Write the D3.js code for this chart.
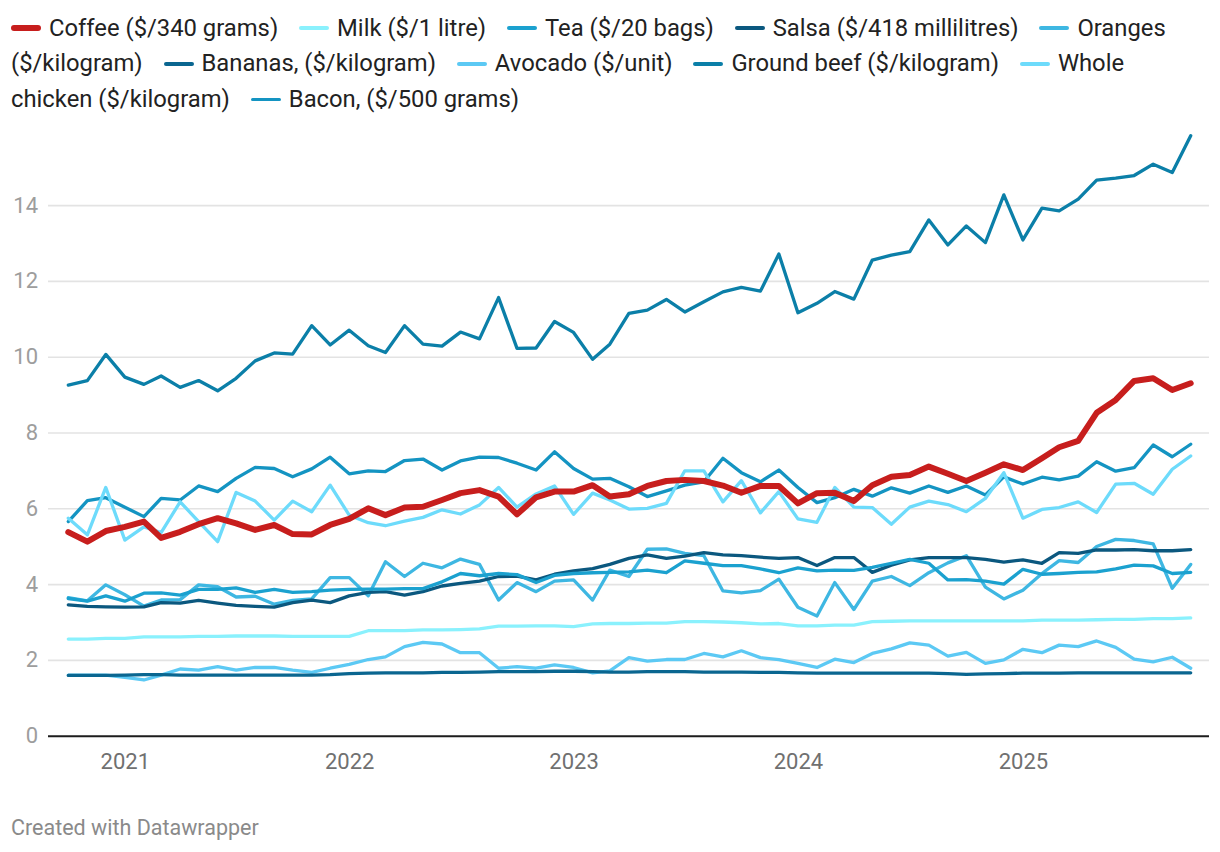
<!DOCTYPE html>
<html>
<head>
<meta charset="utf-8">
<script src="https://cdn.jsdelivr.net/npm/d3@7"></script>
<style>
  body { margin: 0; background: #fff; font-family: Roboto, sans-serif; }
  #chart { position: relative; width: 1220px; height: 852px; }
  #legend {
    position: absolute; left: 11px; top: 10.5px; width: 1198px;
    font-size: 23.8px; line-height: 35.7px; color: #222;
  }
  #legend .item { margin-right: 15px; }
  #legend .head { white-space: nowrap; }
  #legend .swatch {
    display: inline-block; width: 30px; border-radius: 3px;
    vertical-align: middle; margin-right: 8px; position: relative; top: -1px;
  }
  svg { position: absolute; left: 0; top: 0; }
</style>
</head>
<body>
<div id="chart"></div>
<script>
// monthly, Oct 2020 .. Oct 2025
const months = d3.timeMonth.range(new Date(2020, 9, 1), new Date(2025, 10, 1));
const yearTicks = ["2021", "2022", "2023", "2024", "2025"];
const yTicks = [0, 2, 4, 6, 8, 10, 12, 14];

const coffee = [5.37, 5.12, 5.40, 5.51, 5.65, 5.22, 5.38, 5.58, 5.74, 5.60,
  5.43, 5.56, 5.32, 5.31, 5.56, 5.72, 6.00, 5.82, 6.02, 6.04,
  6.22, 6.40, 6.48, 6.31, 5.84, 6.29, 6.44, 6.44, 6.61, 6.31,
  6.37, 6.59, 6.72, 6.75, 6.72, 6.60, 6.41, 6.59, 6.59, 6.13,
  6.40, 6.41, 6.19, 6.61, 6.83, 6.88, 7.10, 6.91, 6.72, 6.94,
  7.16, 7.01, 7.32, 7.61, 7.78, 8.52, 8.86, 9.36, 9.43, 9.12, 9.30];
const milk = [2.55, 2.55, 2.57, 2.57, 2.61, 2.61, 2.61, 2.62, 2.62, 2.63,
  2.63, 2.63, 2.62, 2.62, 2.62, 2.62, 2.77, 2.77, 2.77, 2.79,
  2.79, 2.80, 2.82, 2.89, 2.89, 2.90, 2.90, 2.88, 2.95, 2.96,
  2.96, 2.97, 2.97, 3.01, 3.01, 3.00, 2.98, 2.95, 2.96, 2.90,
  2.90, 2.92, 2.92, 3.01, 3.02, 3.03, 3.03, 3.03, 3.03, 3.03,
  3.03, 3.03, 3.05, 3.05, 3.05, 3.06, 3.07, 3.07, 3.09, 3.09, 3.11];
const tea = [3.62, 3.55, 3.69, 3.55, 3.76, 3.77, 3.71, 3.86, 3.86, 3.90,
  3.78, 3.86, 3.78, 3.80, 3.84, 3.86, 3.87, 3.87, 3.88, 3.88,
  4.06, 4.28, 4.22, 4.28, 4.25, 4.04, 4.23, 4.28, 4.30, 4.31,
  4.32, 4.37, 4.30, 4.61, 4.55, 4.49, 4.49, 4.40, 4.30, 4.43,
  4.35, 4.37, 4.36, 4.44, 4.55, 4.65, 4.55, 4.11, 4.12, 4.08,
  4.00, 4.39, 4.26, 4.28, 4.31, 4.32, 4.40, 4.50, 4.48, 4.28, 4.31];
const salsa = [3.45, 3.41, 3.40, 3.39, 3.40, 3.51, 3.50, 3.57, 3.50, 3.44,
  3.41, 3.39, 3.51, 3.58, 3.51, 3.69, 3.78, 3.80, 3.71, 3.80,
  3.95, 4.02, 4.08, 4.20, 4.21, 4.11, 4.26, 4.35, 4.41, 4.52,
  4.68, 4.77, 4.68, 4.74, 4.83, 4.77, 4.75, 4.71, 4.68, 4.70,
  4.49, 4.70, 4.70, 4.31, 4.50, 4.64, 4.70, 4.70, 4.70, 4.65,
  4.58, 4.64, 4.55, 4.83, 4.81, 4.90, 4.90, 4.91, 4.88, 4.88, 4.91];
const oranges = [3.64, 3.56, 3.98, 3.72, 3.42, 3.58, 3.59, 3.98, 3.93, 3.66,
  3.68, 3.47, 3.57, 3.61, 4.17, 4.17, 3.69, 4.59, 4.20, 4.55,
  4.43, 4.66, 4.52, 3.58, 4.04, 3.80, 4.08, 4.11, 3.58, 4.37,
  4.20, 4.92, 4.93, 4.81, 4.75, 3.82, 3.77, 3.83, 4.13, 3.39,
  3.16, 4.04, 3.33, 4.08, 4.20, 3.96, 4.30, 4.56, 4.75, 3.92,
  3.61, 3.84, 4.28, 4.62, 4.57, 4.99, 5.18, 5.15, 5.06, 3.89, 4.52];
const bananas = [1.59, 1.59, 1.59, 1.60, 1.61, 1.61, 1.60, 1.60, 1.60, 1.60,
  1.60, 1.60, 1.60, 1.60, 1.61, 1.64, 1.65, 1.66, 1.66, 1.66,
  1.67, 1.67, 1.68, 1.69, 1.69, 1.69, 1.70, 1.70, 1.69, 1.68,
  1.68, 1.69, 1.69, 1.69, 1.68, 1.68, 1.68, 1.67, 1.67, 1.66,
  1.65, 1.65, 1.65, 1.65, 1.65, 1.65, 1.65, 1.64, 1.62, 1.63,
  1.64, 1.65, 1.65, 1.65, 1.66, 1.66, 1.66, 1.66, 1.66, 1.66, 1.66];
const avocado = [1.60, 1.60, 1.60, 1.54, 1.47, 1.60, 1.76, 1.73, 1.82, 1.73,
  1.80, 1.80, 1.73, 1.67, 1.78, 1.88, 2.01, 2.08, 2.35, 2.46,
  2.42, 2.19, 2.19, 1.78, 1.82, 1.78, 1.87, 1.80, 1.66, 1.71,
  2.06, 1.97, 2.01, 2.01, 2.17, 2.08, 2.24, 2.06, 2.01, 1.91,
  1.80, 2.02, 1.93, 2.17, 2.29, 2.45, 2.39, 2.10, 2.20, 1.91,
  2.00, 2.28, 2.19, 2.39, 2.35, 2.50, 2.33, 2.02, 1.95, 2.07, 1.78];
const groundBeef = [9.25, 9.37, 10.06, 9.46, 9.27, 9.49, 9.19, 9.37, 9.10, 9.43,
  9.89, 10.10, 10.07, 10.82, 10.31, 10.70, 10.29, 10.11, 10.82, 10.33,
  10.28, 10.65, 10.47, 11.56, 10.22, 10.23, 10.93, 10.64, 9.93, 10.33,
  11.14, 11.23, 11.51, 11.18, 11.45, 11.71, 11.83, 11.73, 12.71, 11.16,
  11.41, 11.72, 11.52, 12.55, 12.68, 12.77, 13.61, 12.95, 13.45, 13.01,
  14.27, 13.08, 13.92, 13.85, 14.16, 14.66, 14.71, 14.78, 15.08, 14.86, 15.83];
const wholeChicken = [5.74, 5.30, 6.55, 5.16, 5.51, 5.36, 6.17, 5.65, 5.12, 6.42,
  6.19, 5.69, 6.19, 5.91, 6.61, 5.82, 5.62, 5.54, 5.66, 5.76,
  5.96, 5.85, 6.09, 6.55, 6.03, 6.38, 6.59, 5.84, 6.40, 6.22,
  5.98, 6.00, 6.13, 6.99, 6.99, 6.17, 6.73, 5.88, 6.44, 5.72,
  5.63, 6.55, 6.03, 6.02, 5.58, 6.03, 6.19, 6.10, 5.91, 6.26,
  6.94, 5.74, 5.97, 6.02, 6.17, 5.89, 6.64, 6.66, 6.37, 7.03, 7.38];
const bacon = [5.65, 6.20, 6.28, 6.03, 5.78, 6.26, 6.22, 6.59, 6.44, 6.79,
  7.08, 7.05, 6.83, 7.04, 7.35, 6.91, 6.99, 6.97, 7.26, 7.30,
  7.01, 7.25, 7.35, 7.34, 7.19, 7.01, 7.49, 7.05, 6.77, 6.79,
  6.57, 6.31, 6.46, 6.61, 6.70, 7.32, 6.94, 6.70, 7.01, 6.55,
  6.15, 6.28, 6.50, 6.32, 6.54, 6.40, 6.59, 6.42, 6.59, 6.35,
  6.83, 6.64, 6.82, 6.75, 6.85, 7.23, 6.98, 7.07, 7.67, 7.36, 7.69];

const names = ["Coffee ($/340 grams)", "Milk ($/1 litre)", "Tea ($/20 bags)",
  "Salsa ($/418 millilitres)", "Oranges ($/kilogram)", "Bananas, ($/kilogram)",
  "Avocado ($/unit)", "Ground beef ($/kilogram)", "Whole chicken ($/kilogram)",
  "Bacon, ($/500 grams)"];
const colors = ["#c71e1d", "#8af1fd", "#1ba1cf", "#0b587f", "#3eb7e2",
  "#0a6690", "#5cc9f4", "#0b7fa8", "#6ddbfb", "#1494c2"];
const values = [coffee, milk, tea, salsa, oranges, bananas, avocado,
  groundBeef, wholeChicken, bacon];

const series = names.map((name, i) => ({
  name: name, color: colors[i], width: i === 0 ? 6 : 3.3,
  values: values[i].map((v, j) => ({ date: months[j], value: v }))
}));

const W = 1220, H = 852;
const plotLeft = 48, plotRight = 1209, xStart = 68.3, xEnd = 1190.7;

let x = d3.scaleTime()
  .domain([months[0], months[months.length - 1]])
  .range([xStart, xEnd]);
let y = d3.scaleLinear().domain([0, 14]).range([735.7, 205.1]);

// legend (html so the words wrap like the original)
let legend = d3.select("#chart").append("div").attr("id", "legend");
let items = legend.selectAll("span.item").data(series).enter()
  .append("span").attr("class", "item");
items.each(function (d) {
  let words = d.name.split(" ");
  let head = d3.select(this).append("span").attr("class", "head");
  head.append("span").attr("class", "swatch")
    .style("height", d.width === 6 ? "6px" : "3.5px")
    .style("background", d.color);
  head.append("span").text(words[0]);
  d3.select(this).append("span").text(" " + words.slice(1).join(" "));
});
items.filter((d, i) => i < series.length - 1).each(function () {
  this.insertAdjacentText("afterend", " ");
});

let svg = d3.select("#chart").append("svg")
  .attr("width", W)
  .attr("height", H);

// grid + y labels
let yAxis = svg.append("g")
  .attr("transform", "translate(" + plotLeft + ",0)")
  .call(d3.axisLeft(y).tickValues(yTicks).tickSize(-(plotRight - plotLeft)).tickPadding(10));
yAxis.select(".domain").remove();
yAxis.selectAll(".tick line")
  .attr("stroke", d => d === 0 ? "#1d1d1d" : "#e3e3e3")
  .attr("stroke-width", d => d === 0 ? 2 : 1.6);
yAxis.selectAll(".tick text")
  .attr("fill", "#9d9d9d")
  .style("font-family", "Roboto, sans-serif")
  .style("font-size", "22px");

// x labels
let xAxis = svg.append("g")
  .attr("transform", "translate(0,735.7)")
  .call(d3.axisBottom(x)
    .tickValues(yearTicks.map(t => d3.timeParse("%Y")(t)))
    .tickFormat(d3.timeFormat("%Y"))
    .tickSize(0).tickPadding(18));
xAxis.select(".domain").remove();
xAxis.selectAll(".tick text")
  .attr("fill", "#707070")
  .style("font-family", "Roboto, sans-serif")
  .style("font-size", "22px");

let line = d3.line()
  .x(d => x(d.date))
  .y(d => y(d.value));

// coffee last, on top
let order = series.slice(1).reverse().concat([series[0]]);
svg.append("g").selectAll("path")
  .data(order).enter()
  .append("path")
  .attr("d", d => line(d.values))
  .attr("fill", "none")
  .attr("stroke", d => d.color)
  .attr("stroke-width", d => d.width)
  .attr("stroke-linejoin", "round")
  .attr("stroke-linecap", "round");

svg.append("text")
  .attr("x", 11)
  .attr("y", 835)
  .attr("fill", "#8a8a8a")
  .style("font-family", "Roboto, sans-serif")
  .style("font-size", "21.5px")
  .text("Created with Datawrapper");
</script>
</body>
</html>
